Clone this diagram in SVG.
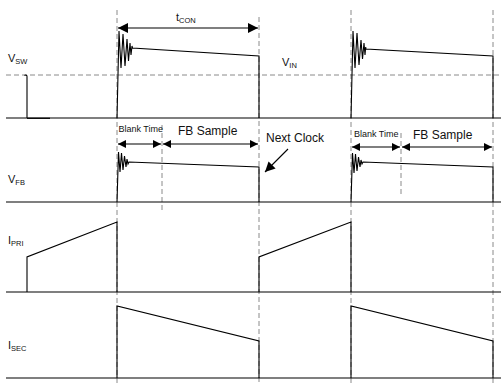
<svg xmlns="http://www.w3.org/2000/svg" width="501" height="385" viewBox="0 0 501 385">
<style>
.bg{fill:#ffffff}
.base{stroke:#000;stroke-width:1.2;fill:none}
.wave{stroke:#000;stroke-width:1.1;fill:none;stroke-linejoin:miter}
.dash{stroke:#8a8a8a;stroke-width:1;stroke-dasharray:5,3;fill:none}
.dim{stroke:#000;stroke-width:1.1;fill:none}
text{font-family:"Liberation Sans",Arial,sans-serif;fill:#111}
.lbl{font-size:11px}
.sub{font-size:7.5px}
.small{font-size:9px}
.mid{font-size:12px}
</style>
<defs>
<marker id="ahBig" viewBox="0 0 10 10" refX="10" refY="5" markerWidth="14" markerHeight="10" markerUnits="userSpaceOnUse" orient="auto-start-reverse"><path d="M0,0 L10,5 L0,10 z" fill="#000"/></marker>
<marker id="ahSm" viewBox="0 0 10 10" refX="10" refY="5" markerWidth="13" markerHeight="8" markerUnits="userSpaceOnUse" orient="auto-start-reverse"><path d="M0,0 L10,5 L0,10 z" fill="#000"/></marker>
</defs>
<rect class="bg" x="0" y="0" width="501" height="385"/>
<g id="grid">
<line class="dash" x1="117" y1="10" x2="117" y2="385"/>
<line class="dash" x1="259" y1="17" x2="259" y2="385"/>
<line class="dash" x1="351" y1="10" x2="351" y2="385"/>
<line class="dash" x1="493" y1="10" x2="493" y2="385"/>
<line class="dash" x1="6" y1="75" x2="501" y2="75"/>
<line class="dash" x1="162" y1="125" x2="162" y2="213"/>
<line class="dash" x1="401" y1="133" x2="401" y2="196"/>
<line class="base" x1="6" y1="118" x2="501" y2="118"/>
<line class="base" x1="6" y1="202" x2="501" y2="202"/>
<line class="base" x1="6" y1="292" x2="501" y2="292"/>
<line class="base" x1="6" y1="378" x2="501" y2="378"/>
</g>
<g id="vsw">
<path class="wave" d="M27,118 V77 a1.5,1.5 0 0 0 -2.5,-1.5"/>
<line class="base" x1="27" y1="118.3" x2="50" y2="118.3" stroke-width="1.6"/>
<polyline class="wave" points="117,118 119,31 121,68 123,34 125,66 127,39 128.5,61 130,43 131,55 132,46 132.5,48 259,56 259,118"/>
<polyline class="wave" points="351,118 353,31 355,68 357,33 359,65 361,40 362.5,59 364,43 365,55 365.7,47 366,49 493,56 493,118"/>
<text class="lbl" x="8" y="62">V<tspan class="sub" dy="2">SW</tspan></text>
<text class="lbl" x="282" y="66">V<tspan class="sub" dy="2">IN</tspan></text>
</g>
<g id="vfb">
<polyline class="wave" points="117,202 118.5,152 120,172 121.5,153 123,170 124.5,156 126,167 127,159 128,164 129,162 259,167 259,202"/>
<polyline class="wave" points="351,202 352.5,153 354,173 355.5,154 357,171 358.5,157 360,167 361,160 362,164 363,162 493,167 493,202"/>
<text class="lbl" x="8" y="183">V<tspan class="sub" dy="2">FB</tspan></text>
</g>
<g id="ipri">
<path class="wave" d="M27,292 V257 L117,222 V292"/>
<path class="wave" d="M259,292 V257 L351,222 V292"/>
<text class="lbl" x="8" y="244">I<tspan class="sub" dy="2">PRI</tspan></text>
</g>
<g id="isec">
<path class="wave" d="M117,378 V306 L259,341 V378"/>
<path class="wave" d="M351,378 V306 L493,341 V378"/>
<text class="lbl" x="8" y="349">I<tspan class="sub" dy="2">SEC</tspan></text>
</g>
<g id="tcon">
<text class="lbl" x="176" y="21">t<tspan class="sub" dy="2">CON</tspan></text>
</g>
<g id="blank1"><text class="small" x="118.5" y="132">Blank Time</text></g>
<g id="fbs1"><text class="mid" x="178" y="135">FB Sample</text></g>
<g id="blank2"><text class="small" x="354" y="137">Blank Time</text></g>
<g id="fbs2"><text class="mid" x="413" y="139">FB Sample</text></g>
<g id="nextclock"><text class="mid" x="266" y="142">Next Clock</text></g>
<g id="connectors">
<line class="dim" x1="118" y1="28" x2="258" y2="28" marker-start="url(#ahBig)" marker-end="url(#ahBig)"/>
<line class="dim" x1="118" y1="144" x2="161" y2="144" marker-start="url(#ahSm)" marker-end="url(#ahSm)"/>
<line class="dim" x1="163" y1="144" x2="258" y2="144" marker-start="url(#ahSm)" marker-end="url(#ahSm)"/>
<line class="dim" x1="352" y1="147" x2="400" y2="147" marker-start="url(#ahSm)" marker-end="url(#ahSm)"/>
<line class="dim" x1="402" y1="147" x2="492" y2="147" marker-start="url(#ahSm)" marker-end="url(#ahSm)"/>
<line class="dim" x1="288" y1="149" x2="265" y2="172" marker-end="url(#ahBig)"/>
</g>
</svg>
